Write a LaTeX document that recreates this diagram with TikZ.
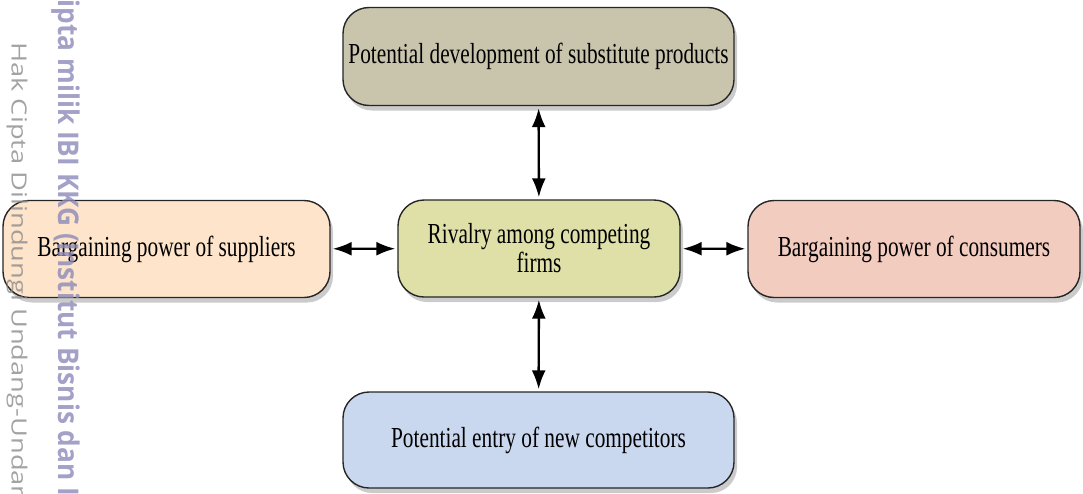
\documentclass[tikz,border=0pt]{standalone}
\usepackage{fontspec}
\setmainfont{Liberation Serif}[FakeStretch=0.735]
\newfontfamily\wmfont{Open Sans}[FakeStretch=0.92]
\newfontfamily\wmthin{Open Sans}[FakeStretch=1.3]
\usetikzlibrary{arrows.meta,shadows}

\definecolor{subcol}{RGB}{201,196,172}
\definecolor{supcol}{RGB}{253,228,203}
\definecolor{rivcol}{RGB}{222,224,168}
\definecolor{concol}{RGB}{243,204,192}
\definecolor{entcol}{RGB}{201,216,238}
\definecolor{wmcol}{RGB}{140,138,185}

\tikzset{
  force/.style={
    draw=black!85,
    line width=1.4pt,
    rounded corners=26pt,
    inner sep=0pt,
    align=center,
    font=\fontsize{29}{29}\selectfont,
    drop shadow={shadow xshift=3pt,shadow yshift=-5pt,fill=black!45,opacity=0.45}
  },
  link/.style={
    {Latex[length=19pt,width=14pt]}-{Latex[length=19pt,width=14pt]},
    line width=2.4pt,
    shorten <=2pt,
    shorten >=2pt
  }
}

\begin{document}
\begin{tikzpicture}[x=1pt,y=-1pt]

\useasboundingbox
(0,0)
rectangle
(1083,493);

\clip
(0,0)
rectangle
(1083,493);

% Rivalite
\node[force,fill=rivcol,minimum width=282pt,minimum height=97pt]
(Riv)
at (539,248.5)
{Rivalry among competing\\firms};

% Substituts
\node[force,fill=subcol,minimum width=391pt,minimum height=98pt]
(Sub)
at (538.5,56.5)
{Potential development of substitute products};

% Fournisseurs
\node[force,fill=supcol,minimum width=327pt,minimum height=97pt]
(Sup)
at (166.5,249)
{Bargaining power of suppliers};

% Clients
\node[force,fill=concol,minimum width=332pt,minimum height=97pt]
(Con)
at (914,249)
{Bargaining power of consumers};

% Entrants
\node[force,fill=entcol,minimum width=391pt,minimum height=96pt]
(Ent)
at (538.5,440)
{Potential entry of new competitors};

% Fleches
\draw[link]
(Sub)
--
(Riv);

\draw[link]
(Riv)
--
(Ent);

\draw[link]
(Sup)
--
(Riv);

\draw[link]
(Riv)
--
(Con);

% Filigrane
\node[rotate=-90,anchor=west,inner sep=0pt,text=wmcol,opacity=0.8,font=\wmfont\bfseries\fontsize{28.5}{28.5}\selectfont]
(WmA)
at (66,-76)
{Hak Cipta milik IBI KKG (Institut Bisnis dan Informatika};

\node[rotate=-90,anchor=west,inner sep=0pt,text=black!45,opacity=0.8,font=\wmthin\fontsize{21}{21}\selectfont]
(WmB)
at (17,42)
{Hak Cipta Dilindungi Undang-Undang};

\end{tikzpicture}
\end{document}
